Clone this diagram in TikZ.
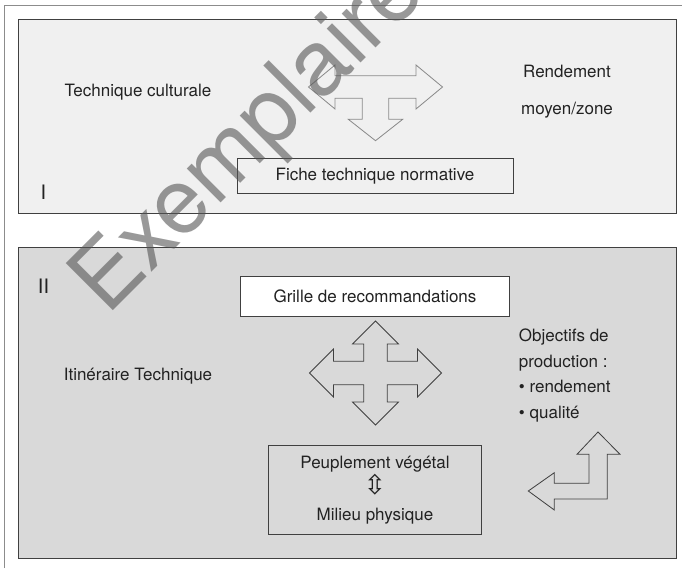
\documentclass[tikz,border=0pt]{standalone}
\usepackage{fontspec}
\setmainfont{TeX Gyre Heros}
\newfontfamily\arrowfont{DejaVu Sans}
\usetikzlibrary{positioning}
\definecolor{PaleGrey}{HTML}{F0F0F0}
\definecolor{MidGrey}{HTML}{D9D9D9}
\definecolor{LineGrey}{HTML}{404040}
\definecolor{FrameGrey}{HTML}{8C8C8C}
\definecolor{ArrowGrey}{HTML}{8A8A8A}
\definecolor{InkGrey}{HTML}{222222}
\definecolor{StampGrey}{HTML}{555555}

\begin{document}
\begin{tikzpicture}[x=0.03cm, y=-0.03cm,
  boxtext/.style={font=\fontsize{14.5}{17}\selectfont, text=InkGrey, inner sep=0pt},
  framed/.style={boxtext, draw=LineGrey, line width=0.8pt},
  hollow/.style={line width=0.7pt, line join=miter}]
  \fill[white] (0,0) rectangle (682,571);
  \useasboundingbox (0,0) rectangle (682,571);

  % outer frame, top and left only
  \draw[FrameGrey, line width=0.6pt] (4.3,568) -- (4.3,5.7) -- (682,5.7);

  % zone I
  \draw[fill=PaleGrey, draw=LineGrey, line width=0.8pt] (18.3,19.3) rectangle (676,213.3);
  \node[boxtext] (Technique) at (138,91.7) {Technique culturale};
  \node[boxtext, align=center, font=\fontsize{14.5}{31}\selectfont] (Rendement) at (567,91.7) {Rendement\\moyen/zone};
  \node[framed, minimum width=8.28cm, minimum height=1.05cm] (Fiche) at (375,175.8) {Fiche technique normative};
  \node[boxtext, font=\fontsize{17}{20}\selectfont] (RomanOne) at (43.5,192) {I};

  \begin{scope}[shift={(375.5,87)}]
    \draw[hollow, draw=ArrowGrey] (-40.5,-11.3) -- (40.5,-11.3) -- (40.5,-22) -- (67,0)
      -- (40.5,22) -- (40.5,11.3) -- (13.3,11.3) -- (13.3,32.3) -- (27.2,32.3) -- (0,53.7)
      -- (-27.2,32.3) -- (-13.3,32.3) -- (-13.3,11.3) -- (-40.5,11.3) -- (-40.5,22)
      -- (-67,0) -- (-40.5,-22) -- cycle;
  \end{scope}

  % zone II
  \draw[fill=MidGrey, draw=LineGrey, line width=0.8pt] (18.3,247.3) rectangle (676,558.3);
  \node[boxtext, font=\fontsize{17}{20}\selectfont] (RomanTwo) at (43.5,286.5) {II};
  \node[framed, fill=white, minimum width=8.08cm, minimum height=1.22cm] (Grille) at (375,296.4) {Grille de recommandations};
  \node[boxtext] (Itineraire) at (138,375.7) {Itinéraire Technique};
  \node[boxtext, align=left, anchor=west, font=\fontsize{14.5}{22}\selectfont] (Objectifs) at (518.7,375.5)
    {Objectifs de\\production :\\• rendement\\• qualité};
  \node[framed, align=center, font=\fontsize{14.5}{22}\selectfont, minimum width=6.38cm, minimum height=2.65cm] (Peuplement) at (375,489.9)
    {Peuplement végétal\\\smash{\arrowfont\fontsize{23}{22}\selectfont ⇳}\\Milieu physique};

  \begin{scope}[shift={(375.5,373)}]
    \draw[hollow, draw=LineGrey] (0,-52) -- (23,-29) -- (11.7,-29) -- (11.7,-11.7) -- (42,-11.7)
      -- (42,-24) -- (66,0) -- (42,24) -- (42,11.7) -- (11.7,11.7) -- (11.7,29) -- (23,29)
      -- (0,52) -- (-23,29) -- (-11.7,29) -- (-11.7,11.7) -- (-42,11.7) -- (-42,24)
      -- (-66,0) -- (-42,-24) -- (-42,-11.7) -- (-11.7,-11.7) -- (-11.7,-29) -- (-23,-29) -- cycle;
  \end{scope}

  \draw[hollow, draw=LineGrey] (598,432) -- (620,454.3) -- (607.3,454.3) -- (607.3,499)
    -- (554.3,499) -- (554.3,510) -- (528.3,491) -- (554.3,472.7) -- (554.3,483.3)
    -- (589,483.3) -- (589,454.3) -- (577,454.3) -- cycle;

  % watermark
  \node[rotate=45, anchor=base west, inner sep=0pt, font=\fontsize{78}{80}\selectfont,
    text=StampGrey, text opacity=0.6] (Stamp) at (107,317) {Exemplaire};
\end{tikzpicture}
\end{document}
